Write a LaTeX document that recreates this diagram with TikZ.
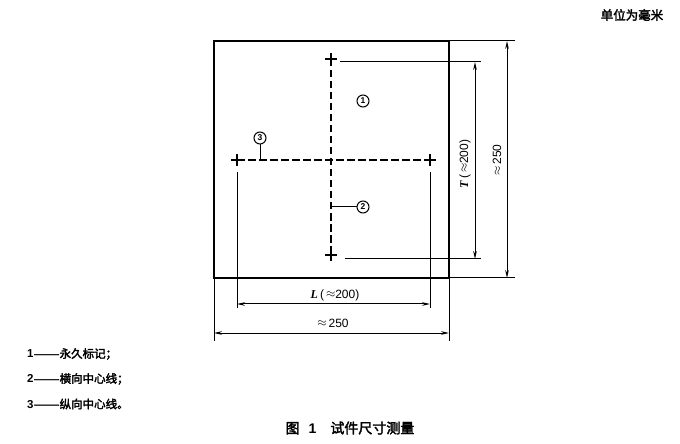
\documentclass[tikz,border=0pt]{standalone}
\usepackage{fontspec}
\setmainfont{Liberation Serif}
\newfontfamily\cjk[AutoFakeBold=2.5]{Noto Sans CJK SC}
\newfontfamily\dimf{Liberation Sans}
\usetikzlibrary{arrows.meta,shapes.misc}
\tikzset{
  frame/.style={line width=1.6bp},
  thin/.style={line width=1bp},
  cl/.style={line width=1.2bp, dash pattern=on 7.5bp off 3.5bp},
  plusmark/.style={cross out, draw, line width=1.6bp, minimum size=6.5bp, inner sep=0pt, rotate=45},
  dimline/.style={line width=1bp, {Stealth[length=8bp,width=3.6bp]}-{Stealth[length=8bp,width=3.6bp]}},
  dimlabel/.style={font=\dimf\fontsize{12bp}{14bp}\selectfont, inner sep=1bp},
  circnum/.style={circle, draw, line width=1bp, minimum size=12bp, inner sep=0pt, font=\dimf\bfseries\fontsize{8.5bp}{9bp}\selectfont},
  legend/.style={anchor=west, font=\cjk\bfseries\fontsize{11.5bp}{13bp}\selectfont, inner sep=0pt},
  title/.style={font=\cjk\bfseries\fontsize{14bp}{16bp}\selectfont, inner sep=0pt}
}
\newcommand{\apx}{\raisebox{0.1ex}{$\approx$}}
\begin{document}
\begin{tikzpicture}[x=1bp,y=-1bp]
\useasboundingbox (0,0) rectangle (680,444);
% specimen
\coordinate (sqTL) at (214,41);
\coordinate (sqBR) at (449,278);
\draw[frame] (sqTL) rectangle (sqBR);
% crosses
\node[plusmark] (ct) at (331,59) {};
\node[plusmark] (cb) at (331,255) {};
\node[plusmark] (cl) at (237,160) {};
\node[plusmark] (cr) at (430,160) {};
% centre lines
\draw[cl] (ct.center) -- (cb.center);
\draw[cl] (cl.center) -- (cr.center);
% labels
\node[circnum] (n1) at (363,101) {1};
\node[circnum] (n3) at (260,138) {3};
\node[circnum] (n2) at (363,207) {2};
\coordinate (l3) at (260,160);
\coordinate (l2) at (331,207);
\draw[thin] (n3.south) -- (l3);
\draw[thin] (l2) -- (n2.west);
% L dimension
\coordinate (La1) at (237,172); \coordinate (La2) at (237,308);
\coordinate (Lb1) at (430,172); \coordinate (Lb2) at (430,308);
\draw[thin] (La1) -- (La2) (Lb1) -- (Lb2);
\coordinate (Ls) at (237,304); \coordinate (Le) at (430,304);
\draw[dimline] (Ls) -- (Le);
\node[dimlabel] (Ltxt) at (335,295) {{\fontspec{Liberation Serif}\bfseries\itshape L}\,(\,\apx200)};
% 250 horizontal
\coordinate (Wa) at (214,341); \coordinate (Wb) at (449,341);
\draw[thin] (214,278) -- (Wa) (449,278) -- (Wb);
\coordinate (Ws) at (214,333); \coordinate (We) at (449,333);
\draw[dimline] (Ws) -- (We);
\node[dimlabel] (Wtxt) at (333,323) {\apx\,250};
% T dimension
\coordinate (Ta1) at (340,62); \coordinate (Ta2) at (481,62);
\coordinate (Tb1) at (345,259); \coordinate (Tb2) at (481,259);
\draw[thin] (Ta1) -- (Ta2) (Tb1) -- (Tb2);
\coordinate (Ts) at (475,62); \coordinate (Te) at (475,259);
\draw[dimline] (Ts) -- (Te);
\node[dimlabel, rotate=90] (Ttxt) at (465,164) {{\fontspec{Liberation Serif}\bfseries\itshape T}\,(\,\apx200)};
% 250 vertical
\coordinate (Ha) at (515,41); \coordinate (Hb) at (515,278);
\draw[thin] (449,41) -- (Ha) (449,278) -- (Hb);
\coordinate (Hs) at (507,41); \coordinate (He) at (507,278);
\draw[dimline] (Hs) -- (He);
\node[dimlabel, rotate=90] (Htxt) at (497,160) {\apx\,250};
% unit
\node[title, font=\cjk\bfseries\fontsize{12.5bp}{14bp}\selectfont] (unit) at (632,15) {单位为毫米};
% legend
\node[legend] (k1) at (27,354) {{\dimf\bfseries 1}\scalebox{1.35}[1]{——}永久标记；};
\node[legend] (k2) at (27,379) {{\dimf\bfseries 2}\scalebox{1.35}[1]{——}横向中心线；};
\node[legend] (k3) at (27,404) {{\dimf\bfseries 3}\scalebox{1.35}[1]{——}纵向中心线。};
% caption
\node[title] (cap) at (350,428) {图\hspace{9bp}{\dimf\bfseries 1}\hspace{14bp}试件尺寸测量};
\end{tikzpicture}
\end{document}
